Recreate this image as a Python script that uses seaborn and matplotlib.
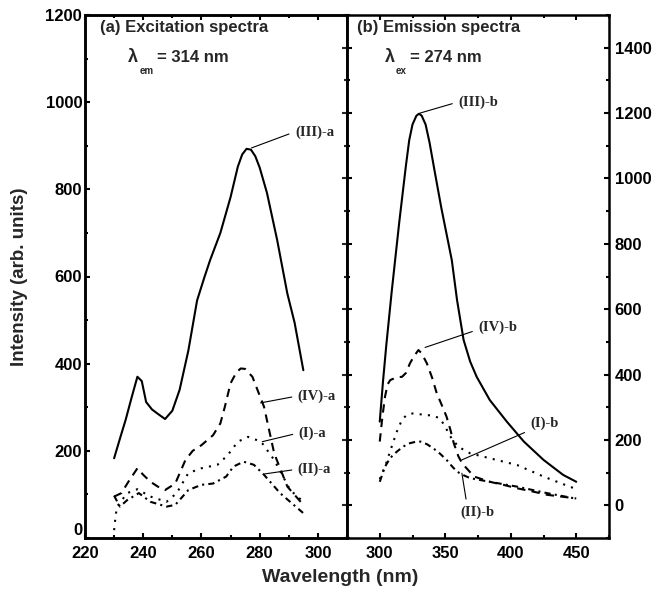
import matplotlib
matplotlib.use('Agg')
import matplotlib.pyplot as plt
import seaborn as sns
from matplotlib.ticker import MultipleLocator

sns.set_style('ticks')
plt.rcParams['font.family'] = ['Liberation Sans', 'DejaVu Sans']
plt.rcParams['font.weight'] = 'bold'
plt.rcParams['axes.linewidth'] = 1.8

# (a) excitation spectra, lambda_em = 314 nm
ex_wl_3 = [230, 232, 234, 236, 238, 239.5, 241, 243, 245, 247.5, 250, 252.5, 255.5, 258.5,
           261, 263, 266.5, 270, 272.5, 274, 275.5, 277, 278.5, 280, 282.5, 286, 289.5, 292, 295]
ex_3 = [183, 228, 272, 322, 370, 360, 312, 295, 285, 273, 292, 340, 430, 545,
        598, 638, 700, 782, 852, 880, 893, 891, 876, 850, 792, 684, 561, 494, 385]
ex_wl_4 = [230, 232.5, 235, 238, 240, 242.5, 245, 247.5, 251, 254.5, 257, 260, 264,
           266.5, 268, 270, 272, 273.5, 275, 277.5, 281.5, 285, 289.5, 295]
ex_4 = [95, 103, 130, 160, 145, 129, 118, 110, 125, 179, 200, 213, 236,
        263, 300, 355, 380, 389, 388, 370, 301, 194, 118, 76]
ex_wl_1 = [230, 230.5, 231, 234.5, 238, 242.5, 248, 251.5, 255.5, 260, 265.5, 269,
           272.5, 276, 280.5, 285, 290.5, 295]
ex_1 = [18, 50, 72, 103, 112, 95, 83, 103, 149, 160, 168, 190,
        221, 232, 221, 179, 110, 83]
ex_wl_2 = [230, 232, 234.5, 238.5, 242.5, 248, 251, 255.5, 260, 264, 268.5, 271,
           274.5, 278, 281.5, 287, 295]
ex_2 = [97, 72, 87, 103, 83, 72, 76, 110, 122, 125, 141, 164,
        175, 168, 145, 103, 57]

# (b) emission spectra, lambda_ex = 274 nm
em_wl_3 = [300, 302.5, 305, 309, 312, 315, 320, 322.5, 325, 328, 330, 332, 335, 338, 342, 347,
           351, 355, 359, 364, 369, 374, 384, 397, 410, 425, 440, 450]
em_3 = [256, 380, 490, 649, 760, 870, 1040, 1117, 1165, 1192, 1198, 1192, 1165, 1110, 1020, 910,
        830, 750, 628, 506, 440, 393, 322, 256, 195, 139, 93, 72]
em_wl_4 = [300, 302, 304, 306, 308, 313, 317, 320, 323, 326, 329.5, 332, 336, 340,
           343.5, 347, 351, 354, 356.5, 360, 363, 367, 372, 384, 395, 405, 417, 428, 440, 450]
em_4 = [195, 270, 332, 370, 383, 392, 393, 405, 434, 455, 475, 465, 434, 390,
        343, 310, 271, 230, 190, 150, 128, 110, 88, 72, 62, 52, 42, 32, 26, 21]
em_wl_1 = [300, 305, 310, 313, 317, 320.5, 325, 330, 335, 340, 346, 350, 354, 360,
           369, 384, 405, 425, 445, 450]
em_1 = [80, 130, 190, 225, 262, 276, 281, 279, 276, 275, 266, 240, 210, 179,
        159, 144, 123, 88, 57, 50]
em_wl_2 = [300, 304, 308, 313, 318, 323, 327, 331, 336, 341, 346, 351, 355, 359,
           364, 369, 384, 405, 428, 449, 450]
em_2 = [72, 118, 145, 164, 180, 190, 194, 195, 187, 174, 158, 139, 120, 103,
        92, 83, 72, 57, 37, 21, 20]

styles = {'I': (0, (1, 3)), 'II': (0, (3, 2, 1, 2)), 'III': '-', 'IV': (0, (4, 3))}

W, H = 653, 601
fig = plt.figure(figsize=(W / 100, H / 100), dpi=100)
ax1 = fig.add_axes([85 / W, 1 - 538 / H, 262 / W, 523 / H])
ax2 = fig.add_axes([347 / W, 1 - 538 / H, 262 / W, 523 / H])

for ax, curves in [(ax1, [('III', ex_wl_3, ex_3), ('IV', ex_wl_4, ex_4),
                          ('I', ex_wl_1, ex_1), ('II', ex_wl_2, ex_2)]),
                   (ax2, [('III', em_wl_3, em_3), ('IV', em_wl_4, em_4),
                          ('I', em_wl_1, em_1), ('II', em_wl_2, em_2)])]:
    for name, xs, ys in curves:
        sns.lineplot(x=xs, y=ys, ax=ax, color='black', linewidth=1.5,
                     linestyle=styles[name], sort=False, estimator=None)

ax1.set_xlim(220, 310)
ax1.set_ylim(0, 1200)
ax1.xaxis.set_major_locator(MultipleLocator(20))
ax1.xaxis.set_minor_locator(MultipleLocator(10))
ax1.yaxis.set_major_locator(MultipleLocator(200))
ax1.yaxis.set_minor_locator(MultipleLocator(100))
ax1.tick_params(which='both', direction='in', top=True, right=False, width=1.5,
                labelsize=12, colors='black')
ax1.tick_params(which='major', length=3.6)
ax1.tick_params(which='minor', length=2.2)
ax1.tick_params(axis='x', pad=5.5)
ax1.tick_params(axis='y', pad=2)

tw = ax1.twinx()
tw.set_ylim(-100, 1500)
tw.yaxis.set_major_locator(MultipleLocator(200))
tw.yaxis.set_minor_locator(MultipleLocator(100))
tw.tick_params(which='both', direction='in', width=1.5, labelright=False)
tw.tick_params(which='major', length=3.6)
tw.tick_params(which='minor', length=2.2)

ax2.set_xlim(275, 475)
ax2.set_ylim(-100, 1500)
ax2.xaxis.set_major_locator(MultipleLocator(50))
ax2.xaxis.set_minor_locator(MultipleLocator(25))
ax2.yaxis.set_major_locator(MultipleLocator(200))
ax2.yaxis.set_minor_locator(MultipleLocator(100))
ax2.tick_params(which='both', direction='in', top=True, left=True, right=True,
                labelleft=False, labelright=True, width=1.5, labelsize=12, colors='black')
ax2.tick_params(which='major', length=3.6)
ax2.tick_params(which='minor', length=2.2)
ax2.tick_params(axis='x', pad=5.5)
ax2.tick_params(axis='y', pad=4)

for ax in (ax1, ax2, tw):
    for s in ax.spines.values():
        s.set_linewidth(1.8)
        s.set_color('black')

# lift the "0" label off the x tick labels below it
fig.canvas.draw()
for lab in ax1.get_yticklabels():
    if lab.get_text() == '0':
        lab.set_va('bottom')

# panel titles
fig.text(100 / W, 1 - 32 / H, '(a) Excitation spectra', fontsize=12, va='baseline')
fig.text(357 / W, 1 - 32 / H, '(b) Emission spectra', fontsize=12, va='baseline')
fig.text(128 / W, 1 - 62 / H, 'λ', fontsize=13, va='baseline')
fig.text(140 / W, 1 - 74 / H, 'em', fontsize=7, va='baseline')
fig.text(157 / W, 1 - 62 / H, '= 314 nm', fontsize=12, va='baseline')
fig.text(385 / W, 1 - 62 / H, 'λ', fontsize=13, va='baseline')
fig.text(396 / W, 1 - 74 / H, 'ex', fontsize=7, va='baseline')
fig.text(410 / W, 1 - 62 / H, '= 274 nm', fontsize=12, va='baseline')

fig.text(340 / W, 1 - 578 / H, 'Wavelength (nm)', fontsize=14, ha='center', va='center')
fig.text(20 / W, 1 - 277 / H, 'Intensity (arb. units)', fontsize=13.5, ha='center',
         va='center', rotation=90)

serif = ['Liberation Serif', 'DejaVu Serif']
notes_a = [('(III)-a', (277.2, 895), (292.1, 932), (0, 0.5)),
           ('(IV)-a', (280.3, 310), (293.1, 326), (0, 0.5)),
           ('(I)-a', (280.9, 221), (293.4, 241), (0, 0.5)),
           ('(II)-a', (281.7, 147), (293.1, 158), (0, 0.5))]
notes_b = [('(III)-b', (330.8, 1200), (359.9, 1234), (0, 0.5)),
           ('(IV)-b', (334.6, 483), (375.2, 546), (0, 0.3)),
           ('(I)-b', (362.7, 139), (415, 251), (0, 0.0)),
           ('(II)-b', (362.7, 98), (361.4, -20), (0.2, 1.0))]
for ax, notes in [(ax1, notes_a), (ax2, notes_b)]:
    for label, tip, txt, rel in notes:
        ax.annotate(label, xy=tip, xytext=txt, fontsize=10.5, family=serif,
                    fontweight='bold', ha='left', va='center',
                    arrowprops=dict(arrowstyle='-', color='black', lw=0.8,
                                    shrinkA=2, shrinkB=0, relpos=rel))

fig.savefig('out.png', dpi=100)
